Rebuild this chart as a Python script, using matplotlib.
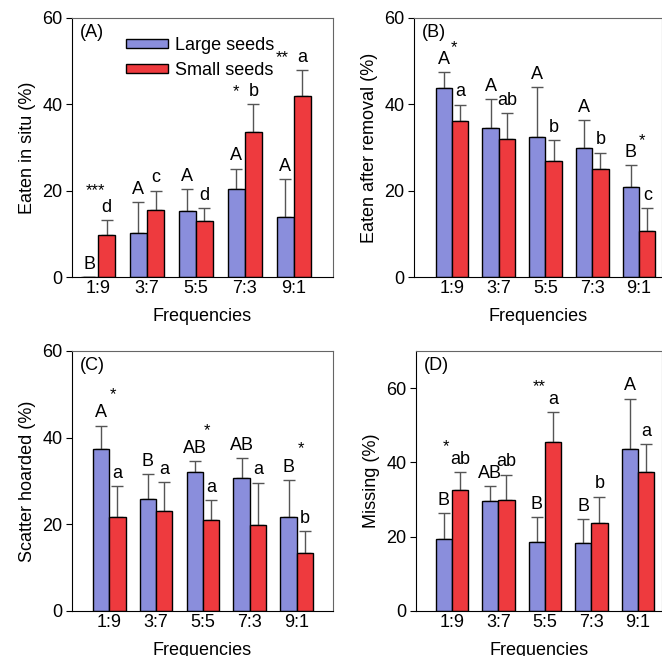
import numpy as np
import matplotlib.pyplot as plt

plt.rcParams['font.family'] = ['Liberation Sans', 'DejaVu Sans']
plt.rcParams['font.size'] = 13

freqs = ['1:9', '3:7', '5:5', '7:3', '9:1']

# (A) eaten in situ
a_large = [0.0, 10.2, 15.4, 20.5, 13.9]
a_large_se = [0.0, 7.1, 5.0, 4.6, 8.8]
a_small = [9.8, 15.5, 13.0, 33.6, 42.0]
a_small_se = [3.3, 4.5, 2.9, 6.4, 5.9]
a_lab_large = ['B', 'A', 'A', 'A', 'A']
a_lab_small = ['d', 'c', 'd', 'b', 'a']
a_stars = ['***', '', '', '*', '**']

# (B) eaten after removal
b_large = [43.8, 34.6, 32.5, 29.8, 20.9]
b_large_se = [3.7, 6.6, 11.5, 6.6, 5.0]
b_small = [36.2, 31.9, 26.8, 25.1, 10.6]
b_small_se = [3.7, 6.1, 4.9, 3.7, 5.4]
b_lab_large = ['A', 'A', 'A', 'A', 'B']
b_lab_small = ['a', 'ab', 'b', 'b', 'c']
b_stars = ['*', '', '', '', '*']

# (C) scatter hoarded
c_large = [37.3, 25.9, 32.0, 30.7, 21.8]
c_large_se = [5.5, 5.6, 2.5, 4.6, 8.4]
c_small = [21.6, 23.0, 20.9, 19.8, 13.3]
c_small_se = [7.2, 6.8, 4.7, 9.8, 5.1]
c_lab_large = ['A', 'B', 'AB', 'AB', 'B']
c_lab_small = ['a', 'a', 'a', 'a', 'b']
c_stars = ['*', '', '*', '', '*']

# (D) missing
d_large = [19.3, 29.6, 18.6, 18.3, 43.5]
d_large_se = [7.0, 4.0, 6.7, 6.4, 13.6]
d_small = [32.5, 29.9, 45.6, 23.8, 37.4]
d_small_se = [4.8, 6.8, 7.9, 7.0, 7.5]
d_lab_large = ['B', 'AB', 'B', 'B', 'A']
d_lab_small = ['ab', 'ab', 'a', 'b', 'a']
d_stars = ['*', '', '**', '', '']

blue = '#8A8EDC'
red = '#EE3A3E'
W = 0.35
FS = 13

fig = plt.figure(figsize=(6.62, 6.56), dpi=100)

panels = [
    ('(A)', 'Eaten in situ (%)', a_large, a_large_se, a_small, a_small_se,
     a_lab_large, a_lab_small, a_stars, [0.1088, 0.5777, 0.3942, 0.3949], (-0.53, 4.8), 60, 'A'),
    ('(B)', 'Eaten after removal (%)', b_large, b_large_se, b_small, b_small_se,
     b_lab_large, b_lab_small, b_stars, [0.6254, 0.5777, 0.3746, 0.3949], (-0.81, 4.49), 60, 'B'),
    ('(C)', 'Scatter hoarded (%)', c_large, c_large_se, c_small, c_small_se,
     c_lab_large, c_lab_small, c_stars, [0.1088, 0.0686, 0.3942, 0.3964], (-0.79, 4.77), 60, 'C'),
    ('(D)', 'Missing (%)', d_large, d_large_se, d_small, d_small_se,
     d_lab_large, d_lab_small, d_stars, [0.6284, 0.0686, 0.3716, 0.3964], (-0.77, 4.52), 70, 'D'),
]

for tag, ylab, lg, lg_se, sm, sm_se, lab_l, lab_s, stars, rect, xl, ytop, key in panels:
    ax = fig.add_axes(rect)
    x = np.arange(len(freqs))
    ax.bar(x - W / 2, lg, W, color=blue, edgecolor='black', linewidth=1, label='Large seeds', zorder=2)
    ax.bar(x + W / 2, sm, W, color=red, edgecolor='black', linewidth=1, label='Small seeds', zorder=2)
    lg_arr = np.array(lg)
    sm_arr = np.array(sm)
    ax.errorbar(x - W / 2, lg, yerr=[np.zeros(5), lg_se], fmt='none', ecolor='#555555',
                elinewidth=1, capsize=4, capthick=1, zorder=1)
    ax.errorbar(x + W / 2, sm, yerr=[np.zeros(5), sm_se], fmt='none', ecolor='#555555',
                elinewidth=1, capsize=4, capthick=1, zorder=1)
    top_l = lg_arr + np.array(lg_se)
    top_s = sm_arr + np.array(sm_se)
    off = 1.0 if ytop == 60 else 1.2
    for i in range(5):
        ax.text(x[i] - W / 2, top_l[i] + off, lab_l[i], ha='center', va='bottom', fontsize=FS)
        ax.text(x[i] + W / 2, top_s[i] + off, lab_s[i], ha='center', va='bottom', fontsize=FS)
        if stars[i]:
            if key == 'A':
                if i == 0:
                    ax.text(x[i] - 0.05, top_s[i] + 5.2, stars[i], ha='center', va='bottom', fontsize=12)
                else:
                    ax.text(x[i] + W / 2 - 0.28, top_s[i] + 1.2, stars[i], ha='right', va='bottom', fontsize=12)
            elif key == 'B':
                ax.text(x[i] - W / 2 + 0.16, top_l[i] + 4.0, stars[i], ha='left', va='bottom', fontsize=12)
            elif key == 'C':
                ax.text(x[i] + 0.08, top_l[i] + 5.5, stars[i], ha='center', va='bottom', fontsize=12)
            else:
                ax.text(x[i] - 0.12, top_s[i] + 5.0, stars[i], ha='center', va='bottom', fontsize=12)
    ax.set_xlim(*xl)
    ax.set_ylim(0, ytop)
    ax.set_yticks([0, 20, 40, 60])
    ax.set_xticks(x)
    ax.set_xticklabels(freqs)
    ax.tick_params(axis='x', length=0, pad=2, labelsize=FS)
    ax.tick_params(axis='y', length=4, direction='out', labelsize=FS, pad=3)
    ax.set_ylabel(ylab, fontsize=FS, labelpad=4)
    ax.set_xlabel('Frequencies', fontsize=FS, labelpad=8)
    for s in ['top', 'right']:
        ax.spines[s].set_color('#666666')
    for s in ['left', 'bottom']:
        ax.spines[s].set_color('black')
    ax.text(0.03, 0.975, tag, transform=ax.transAxes, ha='left', va='top', fontsize=FS)
    if key == 'A':
        ax.legend(loc='upper left', bbox_to_anchor=(0.18, 0.955), frameon=False, fontsize=FS,
                  handlelength=2.3, handleheight=0.45, handletextpad=0.4, labelspacing=0.45,
                  borderaxespad=0)

fig.savefig('out.png', dpi=100)
